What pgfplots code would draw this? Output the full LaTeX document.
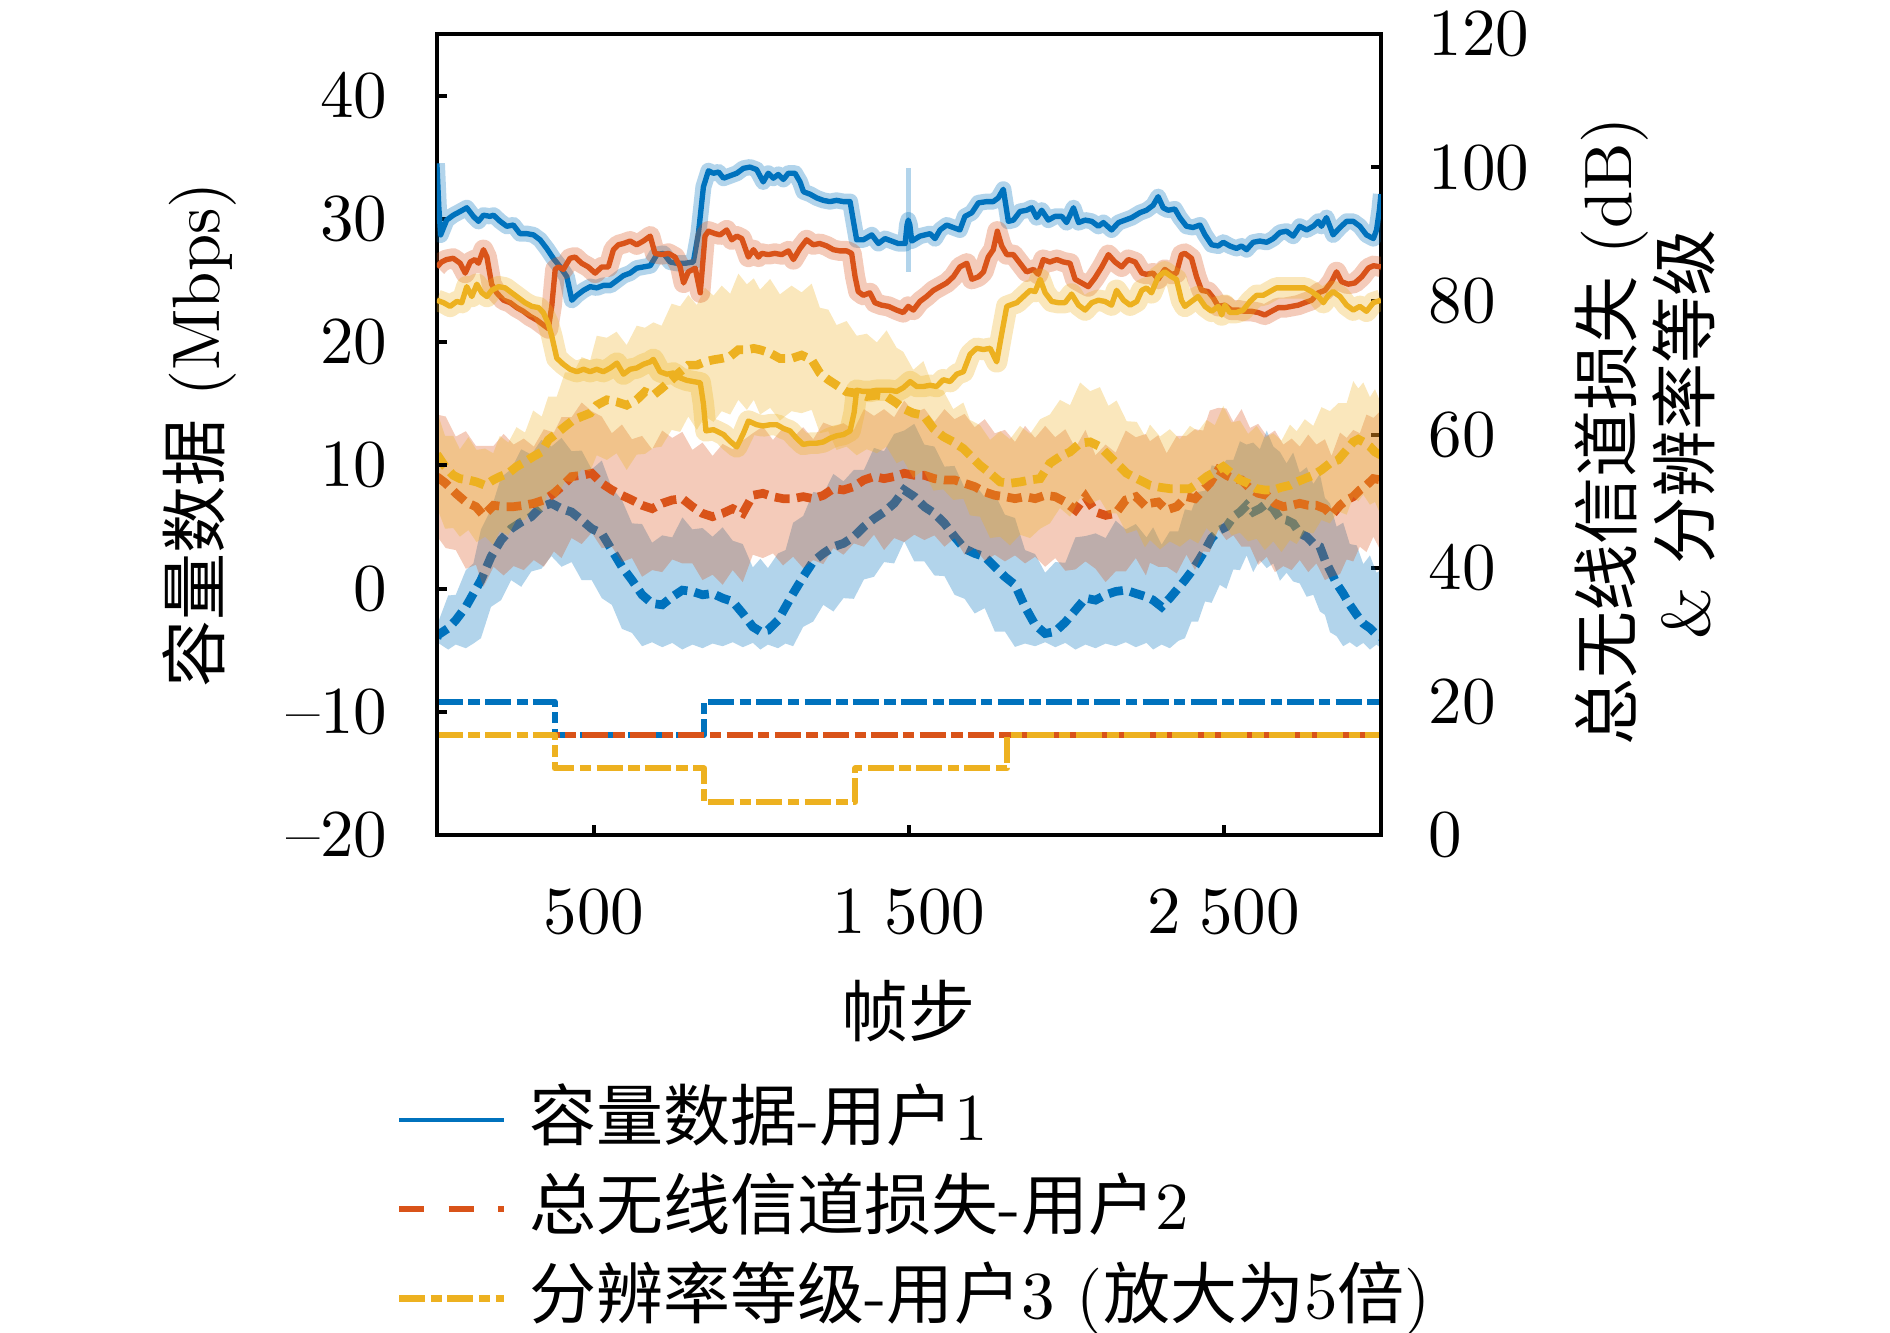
\documentclass[border=0pt]{standalone}
\usepackage{fontspec}
\usepackage{pgfplots}
\usepackage{pgfplotstable}
\pgfplotsset{compat=1.18}
\newfontfamily\cjk{Noto Sans CJK SC}
\definecolor{c1}{rgb}{0,0.447,0.741}
\definecolor{c2}{rgb}{0.850,0.325,0.098}
\definecolor{c3}{rgb}{0.929,0.694,0.125}

% ---------- capacity (left axis, Mbps) ----------
\pgfplotstableread{
f v
0 34.5
6 31.0
12 28.7
31 29.9
52 30.3
74 30.6
95 30.9
116 30.2
132 29.8
148 30.3
169 30.2
180 30.3
201 29.8
222 29.4
243 29.5
264 28.8
286 28.8
307 28.7
328 28.3
349 27.6
370 26.8
392 26.1
413 25.3
429 23.4
445 23.8
466 24.2
487 24.5
508 24.4
529 24.6
551 24.6
572 25.0
593 25.4
614 25.6
635 26.0
656 26.1
678 26.2
699 27.1
720 27.2
741 26.5
762 26.4
789 26.4
815 26.5
831 28.8
847 32.6
863 33.9
879 33.7
895 33.8
911 33.3
932 33.5
953 33.7
974 34.1
995 34.2
1016 34.0
1037 33.0
1053 33.7
1069 33.3
1085 33.6
1101 33.2
1117 33.7
1138 33.7
1154 33.0
1165 32.2
1186 32.0
1207 31.7
1228 31.5
1249 31.4
1270 31.5
1292 31.4
1313 31.4
1323 29.9
1334 28.3
1355 28.3
1382 28.7
1403 28.0
1424 28.4
1445 28.2
1466 28.0
1488 28.0
1494 29.5
1498 29.9
1503 29.5
1509 28.2
1535 28.6
1567 28.8
1583 28.4
1599 29.1
1620 29.5
1641 29.3
1662 29.1
1678 30.2
1700 30.5
1721 31.3
1747 31.4
1768 31.4
1784 31.7
1800 32.4
1816 29.8
1832 29.9
1853 30.6
1874 30.7
1890 30.9
1906 30.1
1922 30.7
1943 29.9
1964 30.2
1986 30.2
2001 29.7
2023 30.9
2039 29.7
2060 29.9
2081 29.8
2102 29.4
2118 29.7
2144 29.1
2166 29.7
2187 29.9
2208 30.1
2234 30.5
2255 30.7
2276 31.1
2292 31.8
2308 30.9
2324 30.7
2345 30.8
2361 30.1
2382 29.4
2403 29.3
2425 29.5
2441 28.7
2462 27.9
2483 27.8
2499 28.1
2520 27.8
2541 27.6
2557 27.8
2573 27.5
2594 28.1
2615 28.2
2637 28.1
2658 28.4
2679 28.9
2700 29.0
2721 28.6
2742 29.4
2764 29.1
2785 29.4
2801 29.8
2811 29.4
2827 30.1
2848 28.7
2870 29.3
2891 29.8
2912 29.8
2933 29.4
2954 28.7
2976 28.4
2986 29.1
2995 30.7
3000 32.0
}\Bone

\pgfplotstableread{
f v
0 26.1
15 26.5
31 26.7
52 26.8
74 26.4
90 25.6
106 26.5
121 26.7
132 26.4
148 27.5
159 26.9
174 24.7
190 24.0
212 23.4
233 23.2
254 22.8
275 22.5
296 22.1
317 21.8
338 21.4
354 21.1
365 22.9
376 25.9
386 26.1
402 25.9
423 26.8
439 26.9
460 26.4
481 26.1
503 25.6
524 26.1
545 26.1
561 27.5
577 27.9
593 28.0
614 28.2
635 27.9
656 28.2
678 28.6
693 27.2
715 27.1
736 27.2
757 26.9
773 26.1
784 24.8
799 25.7
821 26.0
837 24.0
852 28.6
863 29.0
884 28.8
900 28.7
921 29.1
937 28.3
953 28.6
969 28.4
990 26.9
1006 27.5
1022 26.9
1032 27.2
1053 27.1
1074 27.2
1096 27.1
1117 27.4
1133 26.7
1154 27.6
1175 28.3
1196 27.9
1217 28.0
1239 27.8
1260 27.5
1281 27.4
1302 27.4
1318 27.2
1329 25.3
1339 24.1
1355 23.8
1376 24.0
1392 23.2
1413 23.0
1435 22.9
1461 22.6
1482 22.4
1498 22.9
1514 22.6
1535 23.3
1556 23.7
1578 24.2
1599 24.5
1620 24.8
1641 25.3
1662 26.1
1684 26.4
1700 25.1
1721 25.3
1737 25.7
1752 26.9
1768 27.5
1781 29.0
1795 27.8
1811 27.1
1832 27.1
1853 26.4
1874 25.7
1896 25.9
1911 25.5
1927 26.7
1948 26.5
1970 26.7
1991 26.5
2012 26.4
2028 25.1
2049 24.8
2070 24.5
2091 25.2
2113 26.1
2134 27.1
2155 26.5
2176 26.1
2197 26.7
2219 26.5
2240 25.6
2255 25.5
2276 25.6
2292 25.1
2313 25.9
2335 25.5
2350 25.6
2366 27.1
2377 27.2
2398 26.8
2414 25.3
2430 24.2
2451 24.1
2467 23.6
2483 22.9
2504 23.0
2525 22.6
2547 22.6
2568 22.5
2589 22.5
2610 22.4
2631 22.2
2652 22.5
2674 22.8
2695 22.8
2716 22.9
2737 23.0
2758 23.2
2780 23.4
2801 24.0
2822 24.2
2843 24.9
2859 25.7
2875 24.9
2896 24.7
2917 24.8
2939 25.3
2960 26.0
2976 26.2
3000 26.1
}\Rone

\pgfplotstableread{
f v
0 23.4
21 23.2
42 22.9
63 23.3
79 23.2
95 24.5
111 23.7
127 24.7
143 24.0
159 23.7
174 24.2
196 24.5
217 24.4
238 24.0
259 23.6
280 23.2
302 22.9
323 22.8
338 22.4
354 21.5
365 20.5
381 18.7
402 18.2
423 17.8
445 17.6
466 17.8
487 17.6
508 17.8
529 17.6
551 17.9
572 18.3
593 17.4
614 17.8
635 17.9
656 18.2
678 18.4
688 18.6
709 17.6
731 17.4
752 17.5
773 17.1
794 16.9
815 16.8
837 16.7
847 15.0
855 12.8
879 12.9
911 12.5
932 11.95
953 11.5
974 12.6
990 13.6
1016 13.3
1037 13.2
1059 13.3
1080 13.3
1101 13.0
1122 12.8
1143 12.2
1164 11.7
1186 11.8
1207 11.8
1228 11.9
1249 12.2
1270 12.4
1292 12.5
1313 12.8
1326 14.3
1334 16.1
1355 16.0
1376 16.0
1398 16.1
1419 16.1
1440 16.1
1461 16.0
1482 16.3
1504 16.8
1525 16.4
1546 16.4
1567 16.5
1588 16.4
1609 16.95
1631 16.8
1652 17.4
1673 17.6
1694 19.0
1715 19.5
1737 19.4
1758 19.5
1779 18.4
1795 20.7
1811 22.9
1821 23.0
1843 23.2
1864 23.7
1885 24.2
1901 24.1
1917 25.1
1933 24.0
1954 23.3
1975 23.2
1996 23.2
2017 23.9
2039 23.0
2060 22.6
2081 23.2
2102 23.4
2123 23.3
2144 23.0
2160 24.2
2182 23.4
2203 23.0
2224 23.3
2240 24.2
2255 24.4
2271 24.0
2292 25.3
2313 25.7
2335 25.3
2350 25.1
2366 23.4
2377 22.9
2398 23.3
2419 23.7
2441 22.9
2462 22.5
2483 22.9
2494 22.2
2504 23.0
2520 22.4
2541 22.4
2562 22.6
2584 23.3
2605 23.8
2626 23.8
2647 24.1
2668 24.4
2700 24.4
2732 24.4
2758 24.4
2780 24.1
2801 23.7
2817 23.2
2833 23.8
2848 24.1
2870 23.7
2891 23.0
2912 22.6
2933 22.9
2954 22.5
2976 23.2
3000 23.4
}\Yone

% ---------- channel loss (right axis, dB) ----------
\pgfplotstableread{
f v
0 29.5
4 30.0
36 31.0
60 32.2
92 34.2
116 36.2
140 38.2
172 41.7
204 44.2
236 45.9
268 46.9
300 47.7
332 49.2
364 49.7
396 48.9
428 48.4
460 47.2
492 45.9
524 45.2
556 42.7
588 40.2
620 38.2
652 36.0
684 34.7
716 34.5
748 35.7
780 36.7
812 36.5
844 36.0
876 36.2
908 35.5
940 35.0
972 33.2
1004 31.2
1028 30.5
1052 30.7
1084 32.2
1108 34.2
1132 36.2
1164 38.7
1196 41.0
1228 42.2
1260 43.2
1292 43.7
1325 44.7
1357 46.2
1389 47.4
1421 48.4
1453 49.7
1485 51.7
1517 50.7
1549 49.2
1581 48.2
1613 46.7
1645 44.7
1677 42.9
1709 42.2
1741 41.7
1773 40.2
1805 38.7
1837 37.5
1869 34.2
1901 31.5
1933 30.2
1965 30.5
1997 31.9
2029 33.7
2061 35.5
2093 35.2
2125 36.0
2157 36.5
2189 36.7
2221 36.2
2255 35.7
2276 35.2
2303 34.2
2329 35.5
2356 37.0
2377 38.2
2398 39.5
2419 41.0
2441 42.7
2462 44.5
2488 45.7
2509 46.2
2531 47.7
2552 48.4
2573 49.4
2594 48.4
2615 48.9
2637 49.7
2658 48.9
2679 47.4
2700 47.2
2721 46.7
2742 45.2
2764 44.7
2785 43.7
2806 43.2
2822 41.2
2838 39.7
2859 37.7
2880 36.2
2901 34.5
2923 33.0
2944 31.7
2965 31.0
2986 30.0
3000 29.7
}\Btwo

\pgfplotstableread{
f v
0 53.7
28 52.7
60 51.2
92 49.9
124 49.2
148 47.9
180 49.4
212 49.2
244 49.2
276 49.4
308 49.7
340 50.2
372 51.2
396 52.2
428 53.7
460 53.9
492 54.2
524 52.7
556 51.7
588 50.9
620 50.2
652 49.4
684 48.9
716 49.7
748 50.2
780 50.4
812 49.2
844 48.2
876 47.7
908 48.2
940 48.9
972 48.2
1004 50.9
1036 51.2
1068 50.7
1100 50.4
1132 50.4
1164 50.7
1196 50.4
1228 50.9
1260 51.9
1292 51.7
1325 52.2
1357 53.2
1389 53.7
1421 53.4
1453 53.7
1485 54.2
1517 53.9
1549 53.9
1581 53.4
1613 53.2
1645 53.2
1677 52.7
1709 52.2
1741 51.4
1773 50.9
1805 50.7
1837 50.4
1869 50.7
1901 50.4
1933 50.9
1965 50.7
1997 49.9
2029 48.7
2061 50.7
2093 48.4
2125 47.9
2157 48.2
2189 50.2
2221 50.7
2253 49.2
2266 49.7
2292 49.9
2319 48.7
2351 49.2
2382 50.7
2409 50.4
2435 51.7
2456 52.7
2483 54.7
2509 53.9
2531 53.4
2557 53.2
2584 51.9
2610 51.2
2637 50.9
2663 49.7
2690 49.2
2716 49.4
2742 49.7
2769 49.4
2795 49.4
2822 48.9
2843 47.9
2870 49.4
2891 50.2
2912 50.7
2933 51.7
2954 52.4
2976 53.4
3000 53.2
}\Rtwo

\pgfplotstableread{
f v
0 57.0
5 56.7
26 55.2
52 53.9
73 53.4
100 53.2
126 52.9
153 52.4
179 53.2
200 53.7
227 54.2
253 55.2
280 55.9
306 56.7
333 57.4
354 59.2
381 60.2
407 61.2
434 62.2
460 62.7
487 63.2
508 64.4
540 65.2
571 64.9
603 64.4
635 65.2
661 66.4
688 65.9
714 66.9
746 68.2
773 69.4
799 70.4
826 70.4
852 70.9
879 71.2
905 71.4
932 71.7
958 72.7
985 72.7
1007 72.9
1027 72.7
1059 72.2
1090 71.4
1127 71.4
1159 71.9
1191 71.2
1217 69.2
1244 68.2
1270 67.4
1302 66.4
1334 66.2
1366 65.7
1398 65.9
1429 65.7
1461 64.7
1482 63.9
1514 63.2
1546 62.9
1578 60.9
1609 59.7
1641 58.9
1673 57.9
1694 56.9
1726 55.4
1758 54.2
1790 52.9
1821 52.7
1853 52.9
1885 53.2
1917 53.4
1948 55.7
1980 56.7
2012 57.4
2044 58.7
2076 58.9
2107 58.2
2134 56.9
2160 55.7
2192 54.2
2224 53.4
2250 52.8
2266 52.4
2298 52.1
2329 51.9
2361 51.9
2393 51.9
2419 52.7
2446 53.7
2472 54.4
2499 55.2
2525 54.2
2552 53.2
2578 52.7
2605 51.9
2631 51.7
2658 51.7
2684 52.1
2711 52.4
2732 52.9
2758 53.4
2785 53.9
2811 54.7
2838 55.7
2864 56.2
2891 57.7
2912 58.9
2928 59.3
2944 58.9
2965 58.2
2981 57.4
3000 56.9
}\Ytwo

\begin{document}
\begin{tikzpicture}
\path[use as bounding box] (-65.16pt,-74.16pt) rectangle (216.72pt,124.56pt);

% ================= right axis =================
\begin{axis}[
  at={(0pt,0pt)}, anchor=south west,
  scale only axis, width=140.8pt, height=119.5pt,
  xmin=0, xmax=3000, ymin=0, ymax=120,
  axis x line=none, axis y line*=right,
  xtick=\empty,
  ytick={0,20,...,120},
  tick align=inside, major tick length=1.5pt,
  axis line style={line width=0.6pt},
  tick style={black, line width=0.6pt},
  yticklabel style={xshift=3.6pt},
]
% user 1 loss band + line
\addplot[draw=none, fill=c1, fill opacity=0.3, forget plot] coordinates {
(0,32.9) (4,31.9) (36,35.9) (60,36.0) (92,39.7) (116,40.7) (140,45.8) (172,48.8) (204,53.6) (236,54.8) (268,57.8) (300,57.0) (332,59.2) (364,58.2) (396,59.5) (428,57.5) (460,57.6) (492,54.8) (524,56.1) (556,52.0) (588,50.2) (620,46.7) (652,46.6) (684,43.8) (716,44.9) (748,44.6) (780,47.6) (812,45.8) (844,46.0) (876,44.7) (908,46.1) (940,44.1) (972,43.6) (1004,40.1) (1028,41.4) (1052,40.0) (1084,42.2) (1108,42.7) (1132,46.8) (1164,47.8) (1196,51.4) (1228,51.1) (1260,54.1) (1292,53.0) (1325,54.7) (1357,54.7) (1389,58.0) (1421,57.5) (1453,60.1) (1485,60.6) (1517,61.6) (1549,58.5) (1581,58.2) (1613,55.2) (1645,55.3) (1677,52.0) (1709,52.6) (1741,50.6) (1773,51.1) (1805,48.0) (1837,47.5) (1869,42.7) (1901,42.1) (1933,39.3) (1965,40.9) (1997,40.8) (2029,44.6) (2061,44.8) (2093,45.2) (2125,44.5) (2157,47.1) (2189,45.8) (2221,46.6) (2255,44.6) (2276,46.1) (2303,43.5) (2329,45.5) (2356,45.5) (2377,48.8) (2398,48.6) (2419,51.4) (2441,51.6) (2462,55.4) (2488,55.0) (2509,56.2) (2531,56.2) (2552,59.0) (2573,58.5) (2594,58.8) (2615,57.8) (2637,60.6) (2658,58.2) (2679,57.4) (2700,55.7) (2721,57.3) (2742,54.3) (2764,55.1) (2785,52.6) (2806,54.1) (2822,50.5) (2838,49.7) (2859,46.2) (2880,46.8) (2901,43.6) (2923,43.4) (2944,40.6) (2965,41.9) (2986,39.3) (3000,39.7)
(3000,28.0) (2986,28.55) (2965,27.8) (2944,28.8) (2923,28.15) (2901,28.9) (2880,28.3) (2859,29.8) (2838,30.4) (2822,33.0) (2806,33.5) (2785,36.0) (2764,35.7) (2742,37.7) (2721,38.0) (2700,39.3) (2679,38.1) (2658,40.7) (2637,40.0) (2615,41.2) (2594,39.4) (2573,41.9) (2552,39.7) (2531,39.8) (2509,36.9) (2488,37.5) (2462,34.8) (2441,35.0) (2419,32.0) (2398,32.0) (2377,29.5) (2356,29.1) (2329,28.0) (2303,28.55) (2276,27.8) (2255,28.8) (2221,28.15) (2189,28.9) (2157,28.3) (2125,28.7) (2093,28.0) (2061,28.55) (2029,27.8) (1997,28.8) (1965,28.15) (1933,28.9) (1901,28.3) (1869,28.7) (1837,28.2) (1805,30.5) (1773,30.5) (1741,34.0) (1709,33.2) (1677,35.4) (1645,36.0) (1613,38.8) (1581,38.9) (1549,41.0) (1517,41.0) (1485,44.0) (1453,40.7) (1421,40.9) (1389,38.7) (1357,38.3) (1325,35.4) (1292,35.5) (1260,33.5) (1228,34.5) (1196,32.0) (1164,31.2) (1132,28.3) (1108,28.7) (1084,28.0) (1052,28.55) (1028,27.8) (1004,28.8) (972,28.15) (940,28.9) (908,28.3) (876,28.7) (844,28.0) (812,28.55) (780,27.8) (748,28.8) (716,28.15) (684,28.9) (652,28.3) (620,30.3) (588,30.9) (556,34.5) (524,35.5) (492,38.2) (460,38.2) (428,40.9) (396,40.2) (364,41.8) (332,39.9) (300,39.5) (268,37.2) (236,38.2) (204,35.2) (172,34.2) (140,29.5) (116,28.7) (92,28.0) (60,28.55) (36,27.8) (4,28.8) (0,28.15)
};
\addplot[c1, line width=1.3pt, dash pattern=on 2.2pt off 1.1pt, forget plot] table[x=f,y=v] {\Btwo};
% user 2 loss band + line
\addplot[draw=none, fill=c2, fill opacity=0.3, forget plot] coordinates {
(0,63.0) (28,62.7) (60,59.7) (92,60.5) (124,58.3) (148,58.3) (180,58.3) (212,60.1) (244,58.5) (276,59.4) (308,58.2) (340,60.8) (372,60.3) (396,62.6) (428,62.6) (460,64.8) (492,63.5) (524,62.7) (556,60.2) (588,61.5) (620,59.3) (652,59.8) (684,57.8) (716,60.6) (748,59.5) (780,60.4) (812,57.7) (844,58.8) (876,56.8) (908,58.6) (940,57.8) (972,59.1) (1004,60.2) (1036,61.2) (1068,59.2) (1100,61.0) (1132,59.5) (1164,61.1) (1196,59.3) (1228,61.8) (1260,61.2) (1292,61.7) (1325,60.7) (1357,63.8) (1389,62.8) (1421,63.8) (1453,62.6) (1485,65.1) (1517,63.2) (1549,63.9) (1581,61.9) (1613,63.8) (1645,62.3) (1677,63.1) (1709,61.1) (1741,62.3) (1773,60.2) (1805,60.7) (1837,58.9) (1869,61.3) (1901,59.5) (1933,61.3) (1965,59.6) (1997,60.8) (2029,58.0) (2061,60.7) (2093,56.9) (2125,58.5) (2157,57.3) (2189,60.6) (2221,59.6) (2253,60.1) (2266,59.0) (2292,59.9) (2319,57.2) (2351,59.8) (2382,59.8) (2409,60.8) (2435,60.6) (2456,63.6) (2483,64.0) (2509,63.9) (2531,61.9) (2557,63.8) (2584,61.0) (2610,61.6) (2637,59.8) (2663,60.6) (2690,58.5) (2716,59.4) (2742,58.2) (2769,60.0) (2795,58.5) (2822,59.3) (2843,56.8) (2870,60.3) (2891,59.5) (2912,60.7) (2933,60.2) (2954,63.0) (2976,62.5) (3000,63.6)
(3000,42.5) (2976,44.7) (2954,42.4) (2933,43.2) (2912,41.0) (2891,41.3) (2870,39.1) (2843,38.7) (2822,38.2) (2795,40.7) (2769,39.4) (2742,41.2) (2716,39.7) (2690,40.3) (2663,39.4) (2637,41.7) (2610,40.5) (2584,43.2) (2557,43.2) (2531,44.9) (2509,44.2) (2483,45.8) (2456,42.4) (2435,42.5) (2409,39.7) (2382,42.0) (2351,39.2) (2319,40.2) (2292,40.2) (2266,40.8) (2253,38.9) (2221,41.5) (2189,39.5) (2157,39.5) (2125,37.9) (2093,39.9) (2061,41.0) (2029,39.8) (1997,39.6) (1965,41.5) (1933,40.2) (1901,41.7) (1869,40.7) (1837,41.9) (1805,41.0) (1773,42.0) (1741,41.1) (1709,43.0) (1677,42.0) (1645,44.5) (1613,43.2) (1581,44.9) (1549,44.2) (1517,45.0) (1485,43.9) (1453,44.5) (1421,42.7) (1389,45.0) (1357,43.2) (1325,43.7) (1292,42.0) (1260,43.0) (1228,40.6) (1196,41.2) (1164,40.0) (1132,41.7) (1100,40.4) (1068,42.2) (1036,41.5) (1004,42.0) (972,37.9) (940,39.7) (908,37.5) (876,39.0) (844,38.2) (812,40.7) (780,40.7) (748,41.3) (716,39.4) (684,39.7) (652,38.7) (620,41.5) (588,40.9) (556,43.2) (524,43.0) (492,45.3) (460,43.6) (428,44.5) (396,41.5) (372,42.5) (340,40.2) (308,41.2) (276,39.7) (244,40.3) (212,38.9) (180,40.2) (148,37.2) (124,40.5) (92,39.9) (60,42.7) (28,43.0) (0,44.8)
};
\addplot[c2, line width=1.3pt, dash pattern=on 2.2pt off 1.1pt, forget plot] table[x=f,y=v] {\Rtwo};
% user 3 loss band + line
\addplot[draw=none, fill=c3, fill opacity=0.3, forget plot] coordinates {
(0,61.0) (5,62.8) (26,59.8) (52,59.8) (73,57.8) (100,59.6) (126,57.7) (153,57.9) (179,57.2) (200,59.8) (227,58.8) (253,61.1) (280,60.3) (306,63.6) (333,62.7) (354,65.7) (381,65.7) (407,69.3) (434,69.3) (460,71.6) (487,71.1) (508,74.8) (540,74.5) (571,75.4) (603,73.4) (635,76.3) (661,76.0) (688,76.8) (714,76.3) (746,79.6) (773,79.2) (799,80.9) (826,79.4) (852,82.0) (879,80.8) (905,82.3) (932,81.1) (958,84.1) (985,82.5) (1007,83.4) (1027,81.7) (1059,83.3) (1090,81.0) (1127,82.3) (1159,81.3) (1191,82.6) (1217,79.0) (1244,78.7) (1270,76.4) (1302,77.0) (1334,74.8) (1366,75.1) (1398,73.8) (1429,75.6) (1461,73.0) (1482,72.4) (1514,69.7) (1546,71.0) (1578,67.0) (1609,66.6) (1641,63.8) (1673,64.8) (1694,62.2) (1726,61.4) (1758,59.2) (1790,60.5) (1821,59.3) (1853,61.3) (1885,60.1) (1917,62.3) (1948,63.0) (1980,65.2) (2012,64.4) (2044,67.8) (2076,66.5) (2107,67.1) (2134,64.3) (2160,65.1) (2192,62.0) (2224,61.9) (2250,59.8) (2266,61.5) (2298,59.7) (2329,60.8) (2361,59.3) (2393,61.3) (2419,60.5) (2446,62.2) (2472,61.4) (2499,64.3) (2525,61.8) (2552,62.1) (2578,60.1) (2605,61.3) (2631,59.5) (2658,60.2) (2684,59.1) (2711,61.5) (2732,60.5) (2758,62.3) (2785,61.3) (2811,64.1) (2838,63.5) (2864,64.7) (2891,64.7) (2912,68.0) (2928,66.9) (2944,67.8) (2965,65.6) (2981,66.8) (3000,64.7)
(3000,47.9) (2981,49.9) (2965,49.5) (2944,51.0) (2928,50.0) (2912,50.7) (2891,48.0) (2864,48.5) (2838,46.7) (2811,47.2) (2785,45.2) (2758,45.5) (2732,43.6) (2711,44.2) (2684,42.4) (2658,44.0) (2631,42.7) (2605,44.4) (2578,44.0) (2552,45.3) (2525,44.9) (2499,47.0) (2472,44.7) (2446,46.0) (2419,43.7) (2393,44.4) (2361,43.2) (2329,44.0) (2298,42.8) (2266,44.2) (2250,43.1) (2224,45.7) (2192,45.2) (2160,48.2) (2134,48.2) (2107,50.3) (2076,49.6) (2044,50.5) (2012,47.7) (1980,49.0) (1948,46.7) (1917,45.9) (1885,44.5) (1853,45.0) (1821,43.4) (1790,44.7) (1758,44.5) (1726,47.7) (1694,47.9) (1673,50.4) (1641,50.2) (1609,51.8) (1578,51.6) (1546,54.7) (1514,53.5) (1482,56.2) (1461,55.7) (1429,58.2) (1398,57.2) (1366,57.8) (1334,56.9) (1302,58.2) (1270,57.7) (1244,60.5) (1217,60.2) (1191,63.7) (1159,63.2) (1127,63.5) (1090,62.1) (1059,64.0) (1027,63.0) (1007,65.2) (985,63.7) (958,65.2) (932,63.0) (905,63.5) (879,61.9) (852,62.7) (826,60.7) (799,62.7) (773,60.4) (746,60.7) (714,58.2) (688,58.0) (661,57.1) (635,57.0) (603,54.7) (571,57.2) (540,56.2) (508,56.9) (487,54.5) (460,54.8) (434,52.9) (407,53.0) (381,50.5) (354,51.5) (333,48.4) (306,49.2) (280,47.2) (253,47.3) (227,44.9) (200,45.5) (179,43.5) (153,44.7) (126,43.9) (100,45.7) (73,44.7) (52,46.0) (26,45.9) (5,48.5) (0,47.3)
};
\addplot[c3, line width=1.3pt, dash pattern=on 2.2pt off 1.1pt, forget plot] table[x=f,y=v] {\Ytwo};
% resolution levels x5
\addplot[c1, line width=0.9pt, line join=round, dash pattern=on 3.9pt off 0.8pt on 1.7pt off 0.8pt, forget plot] coordinates {(0,20) (374,20) (374,15) (848,15) (848,20) (3000,20)};
\addplot[c2, line width=0.9pt, line join=round, dash pattern=on 3.9pt off 0.8pt on 1.7pt off 0.8pt, forget plot] coordinates {(0,15) (3000,15)};
\addplot[c3, line width=0.9pt, line join=round, dash pattern=on 3.9pt off 0.8pt on 1.7pt off 0.8pt, forget plot] coordinates {(0,15) (374,15) (374,10) (848,10) (848,5) (1330,5) (1330,10) (1812,10) (1812,15) (3000,15)};
\end{axis}

% ================= left axis =================
\begin{axis}[
  at={(0pt,0pt)}, anchor=south west,
  scale only axis, width=140.8pt, height=119.5pt,
  xmin=0, xmax=3000, ymin=-20, ymax=45,
  xtick={500,1500,2500}, ytick={-20,-10,...,40},
  yticklabels={–20,–10,0,10,20,30,40},
  xtick pos=left, ytick pos=left,
  tick align=inside, major tick length=1.5pt,
  axis line style={line width=0.6pt},
  tick style={black, line width=0.6pt},
  /pgf/number format/1000 sep={\;},
  xticklabel style={yshift=-4.7pt},
  yticklabel style={xshift=-3.9pt},
  ylabel={{\cjk 容量数据} (Mbps)},
  ylabel style={at={(axis description cs:-0.252,0.5)}, anchor=center},
  xlabel={\cjk 帧步},
  xlabel style={at={(axis description cs:0.5,-0.2199)}, anchor=center},
  legend style={at={(axis description cs:0,0)}, anchor=north west,
    xshift=-6.1pt, yshift=-37.5pt, draw=none, fill=none,
    inner sep=0pt, outer sep=0pt, row sep=3.3pt, column sep=3.3pt,
    nodes={inner sep=0pt, text height=8pt, text depth=2pt}},
  legend cell align=left,
  legend image code/.code={\draw[#1] (0pt,0pt) -- (15.7pt,0pt);},
]
\addplot[draw=none, fill=c1, fill opacity=0.3, forget plot] coordinates {(1490,25.7) (1508,25.7) (1508,34.1) (1490,34.1)};
\addplot[c1, line width=2.4pt, opacity=0.3, line join=round, forget plot] table[x=f,y=v] {\Bone};
\addplot[c1, line width=0.8pt, line join=round, forget plot] table[x=f,y=v] {\Bone};
\addplot[c2, line width=3pt, opacity=0.3, line join=round, forget plot] table[x=f,y=v] {\Rone};
\addplot[c2, line width=0.8pt, line join=round, forget plot] table[x=f,y=v] {\Rone};
\addplot[c3, line width=3.2pt, opacity=0.3, line join=round, forget plot] table[x=f,y=v] {\Yone};
\addplot[c3, line width=0.8pt, line join=round, forget plot] table[x=f,y=v] {\Yone};

\addlegendimage{c1, line width=0.6pt}
\addlegendentry{{\cjk 容量数据}-{\cjk 用户}1}
\addlegendimage{c2, line width=0.9pt, dash pattern=on 3.8pt off 3.6pt}
\addlegendentry{{\cjk 总无线信道损失}-{\cjk 用户}2}
\addlegendimage{c3, line width=0.9pt, dash pattern=on 3.9pt off 0.8pt on 1.7pt off 0.8pt}
\addlegendentry{{\cjk 分辨率等级}-{\cjk 用户}3 ({\cjk 放大为}5{\cjk 倍})}
\end{axis}

\node[rotate=90] at (175.2pt,60.2pt) {{\cjk 总无线信道损失} (dB)};
\node[rotate=90] at (186pt,59.8pt) {\& {\cjk 分辨率等级}};
\end{tikzpicture}
\end{document}
